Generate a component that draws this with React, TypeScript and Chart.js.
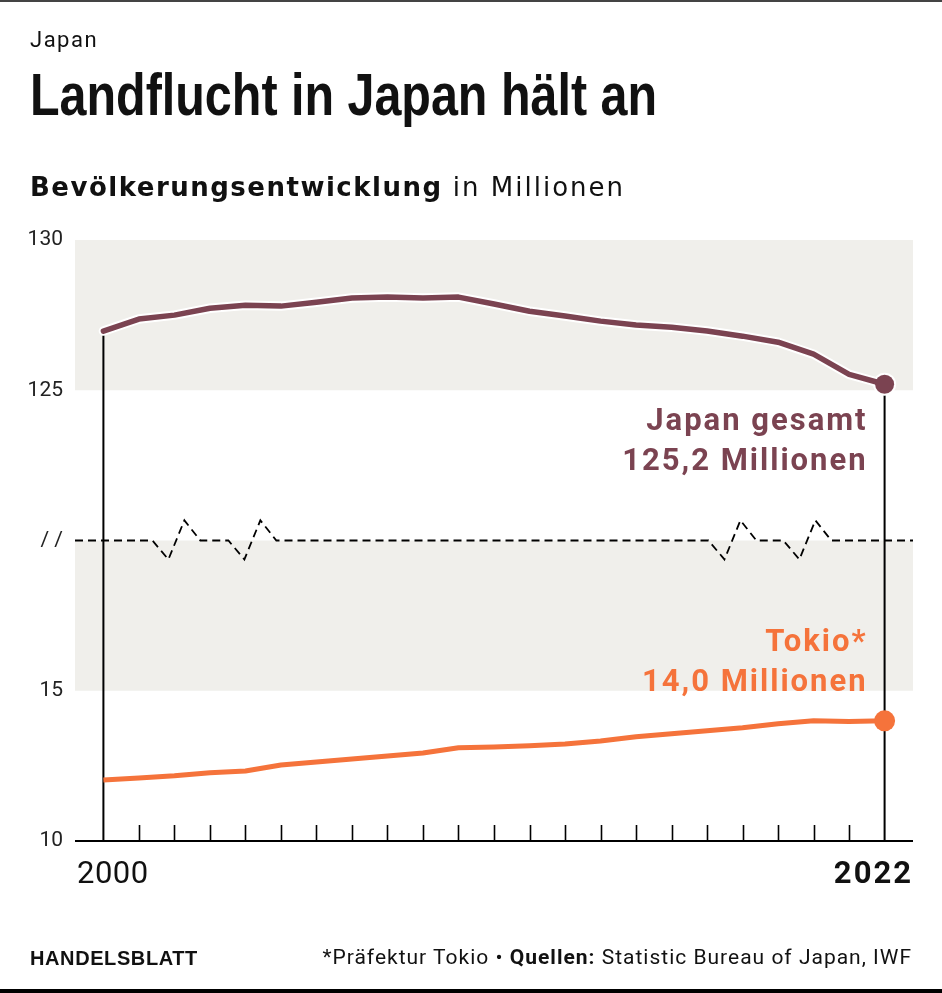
import React, { useEffect, useRef } from "react";
import { Chart, registerables } from "chart.js";

Chart.register(...registerables);

// ---- Data ----
const years = [
  2000, 2001, 2002, 2003, 2004, 2005, 2006, 2007, 2008, 2009, 2010, 2011,
  2012, 2013, 2014, 2015, 2016, 2017, 2018, 2019, 2020, 2021, 2022,
];
// Japan gesamt, Mio.
const japanTotal = [
  126.97, 127.37, 127.5, 127.73, 127.83, 127.8, 127.93, 128.07, 128.1, 128.07,
  128.1, 127.87, 127.63, 127.47, 127.3, 127.17, 127.1, 126.97, 126.8, 126.6,
  126.2, 125.53, 125.2,
];
// Präfektur Tokio, Mio.
const tokyo = [
  12.03, 12.1, 12.17, 12.27, 12.33, 12.53, 12.63, 12.73, 12.83, 12.93, 13.1,
  13.13, 13.17, 13.23, 13.33, 13.47, 13.57, 13.67, 13.77, 13.9, 14.0, 13.98,
  14.0,
];
// Broken axis: lower segment 10–15, upper segment 125–130
const yTickLabels = ["10", "15", "/ /", "125", "130"];
const TOKYO_OFFSET = 10; // 10 Mio. -> axis value 0
const JAPAN_OFFSET = 110; // 125 Mio. -> axis value 15
const BREAK_VALUE = 10; // axis value of the "//" line
const breakStarts = [2001.38, 2003.52, 2017.04, 2019.15];
const BREAK_WIDTH = 1.35;

const japanLabel = ["Japan gesamt", "125,2 Millionen"];
const tokyoLabel = ["Tokio*", "14,0 Millionen"];

const JAPAN_COLOR = "#7b4351";
const TOKYO_COLOR = "#f5733b";
const BAND_COLOR = "#f0efeb";

const japanPts = years.map((yr, i) => ({ x: yr, y: japanTotal[i] - JAPAN_OFFSET }));
const tokyoPts = years.map((yr, i) => ({ x: yr, y: tokyo[i] - TOKYO_OFFSET }));
const lastIdx = years.length - 1;

const decorPlugin = {
  id: "decor",
  beforeDatasetsDraw(chart: any) {
    const { ctx, chartArea: a, scales } = chart;
    const x = scales.x;
    const y = scales.y;
    ctx.save();
    // grey bands
    ctx.fillStyle = BAND_COLOR;
    ctx.fillRect(a.left, y.getPixelForValue(20), a.right - a.left, y.getPixelForValue(15) - y.getPixelForValue(20));
    ctx.fillRect(a.left, y.getPixelForValue(10), a.right - a.left, y.getPixelForValue(5) - y.getPixelForValue(10));
    // dashed break line with zigzags
    const yb = y.getPixelForValue(BREAK_VALUE);
    ctx.beginPath();
    ctx.moveTo(a.left, yb);
    breakStarts.forEach((bs) => {
      ctx.lineTo(x.getPixelForValue(bs), yb);
      ctx.lineTo(x.getPixelForValue(bs + BREAK_WIDTH / 3), y.getPixelForValue(BREAK_VALUE - 0.63));
      ctx.lineTo(x.getPixelForValue(bs + (2 * BREAK_WIDTH) / 3), y.getPixelForValue(BREAK_VALUE + 0.67));
      ctx.lineTo(x.getPixelForValue(bs + BREAK_WIDTH), yb);
    });
    ctx.lineTo(a.right, yb);
    ctx.setLineDash([8, 5]);
    ctx.lineWidth = 1.8;
    ctx.strokeStyle = "#000";
    ctx.stroke();
    ctx.setLineDash([]);
    // x axis line
    ctx.beginPath();
    ctx.moveTo(a.left, a.bottom);
    ctx.lineTo(a.right, a.bottom);
    ctx.lineWidth = 2;
    ctx.stroke();
    // year ticks
    ctx.beginPath();
    for (let i = 1; i < lastIdx; i++) {
      const px = Math.round(x.getPixelForValue(years[i])) + 0.5;
      ctx.moveTo(px, a.bottom);
      ctx.lineTo(px, a.bottom - 16);
    }
    ctx.lineWidth = 1.6;
    ctx.stroke();
    // vertical lines at start/end year
    ctx.beginPath();
    const x0 = x.getPixelForValue(years[0]);
    const x1 = x.getPixelForValue(years[lastIdx]);
    ctx.moveTo(x0, y.getPixelForValue(japanPts[0].y));
    ctx.lineTo(x0, a.bottom);
    ctx.moveTo(x1, y.getPixelForValue(japanPts[lastIdx].y));
    ctx.lineTo(x1, a.bottom);
    ctx.lineWidth = 2;
    ctx.stroke();
    ctx.restore();
  },
  afterDatasetsDraw(chart: any) {
    const { ctx, chartArea: a, scales } = chart;
    const x = scales.x;
    const y = scales.y;
    ctx.save();
    // x labels
    ctx.fillStyle = "#111";
    ctx.textBaseline = "alphabetic";
    ctx.font = "400 31px Roboto";
    ctx.textAlign = "left";
    ctx.letterSpacing = "0.5px";
    ctx.fillText(String(years[0]), a.left + 2, a.bottom + 42);
    ctx.font = "700 31px Roboto";
    ctx.textAlign = "right";
    ctx.letterSpacing = "2px";
    ctx.fillText(String(years[lastIdx]), a.right, a.bottom + 42);
    // annotations
    const xe = x.getPixelForValue(years[lastIdx]) - 17;
    const yj = y.getPixelForValue(japanPts[lastIdx].y);
    const yt = y.getPixelForValue(tokyoPts[lastIdx].y);
    ctx.font = "700 31px Roboto";
    ctx.textAlign = "right";
    ctx.letterSpacing = "2px";
    ctx.fillStyle = JAPAN_COLOR;
    ctx.fillText(japanLabel[0], xe, yj + 46);
    ctx.fillText(japanLabel[1], xe, yj + 86);
    ctx.fillStyle = TOKYO_COLOR;
    ctx.fillText(tokyoLabel[0], xe, yt - 70);
    ctx.fillText(tokyoLabel[1], xe, yt - 30);
    ctx.restore();
  },
};

function lastOnly(r: number) {
  return years.map((_, i) => (i === lastIdx ? r : 0));
}

export default function App() {
  const canvasRef = useRef<HTMLCanvasElement | null>(null);
  const titleRef = useRef<HTMLDivElement | null>(null);

  useEffect(() => {
    document.body.style.margin = "0";
    const t = titleRef.current;
    if (t) {
      t.style.transform = "none";
      const w = t.getBoundingClientRect().width;
      if (w > 0) t.style.transform = `scaleX(${627 / w})`;
    }
    const canvas = canvasRef.current!;
    const chart = new Chart(canvas, {
      type: "line",
      data: {
        datasets: [
          {
            label: "Japan",
            data: japanPts,
            borderColor: JAPAN_COLOR,
            backgroundColor: JAPAN_COLOR,
            borderWidth: 5.5,
            pointRadius: lastOnly(9.5),
            pointHoverRadius: 0,
            pointBorderWidth: 0,
            borderCapStyle: "round",
            borderJoinStyle: "round",
            tension: 0,
            order: 1,
          },
          {
            label: "Japan-halo",
            data: japanPts,
            borderColor: "#ffffff",
            backgroundColor: "#ffffff",
            borderWidth: 9.5,
            pointRadius: lastOnly(11.5),
            pointBorderWidth: 0,
            borderCapStyle: "round",
            borderJoinStyle: "round",
            tension: 0,
            order: 2,
          },
          {
            label: "Tokio",
            data: tokyoPts,
            borderColor: TOKYO_COLOR,
            backgroundColor: TOKYO_COLOR,
            borderWidth: 5,
            pointRadius: lastOnly(10.5),
            pointBorderWidth: 0,
            borderCapStyle: "butt",
            borderJoinStyle: "round",
            tension: 0,
            order: 0,
          },
        ],
      },
      options: {
        animation: false,
        responsive: false,
        devicePixelRatio: 1,
        events: [],
        layout: { padding: { left: 0, top: 240, right: 29, bottom: 152 } },
        plugins: { legend: { display: false }, tooltip: { enabled: false } },
        scales: {
          x: { type: "linear", min: 1999.2, max: 2022.8, display: false },
          y: {
            type: "linear",
            min: 0,
            max: 20,
            afterFit: (s: any) => {
              s.width = 75;
            },
            grid: { display: false, drawTicks: false },
            border: { display: false },
            ticks: {
              stepSize: 5,
              padding: 12,
              color: "#222",
              font: { family: "Roboto", size: 21 },
              callback: (v: any) => yTickLabels[Math.round(Number(v) / 5)],
            },
          },
        },
      } as any,
      plugins: [decorPlugin],
    });
    return () => chart.destroy();
  }, []);

  const base: React.CSSProperties = { position: "absolute", lineHeight: 1, whiteSpace: "nowrap", color: "#111" };

  return (
    <div style={{ position: "fixed", left: 0, top: 0, width: 942, height: 993, background: "#fff", overflow: "hidden" }}>
      <canvas ref={canvasRef} width={942} height={993} style={{ position: "absolute", left: 0, top: 0, width: 942, height: 993 }} />
      <div style={{ position: "absolute", left: 0, top: 0, width: 942, height: 2, background: "#444" }} />
      <div style={{ position: "absolute", left: 0, top: 989, width: 942, height: 4, background: "#000" }} />
      <div style={{ ...base, left: 30, top: 29, fontFamily: "Roboto", fontSize: 22, fontWeight: 400, letterSpacing: 1.5 }}>Japan</div>
      <div
        ref={titleRef}
        style={{ ...base, left: 30, top: 66, fontFamily: "'Liberation Sans', Arial, sans-serif", fontSize: 59, fontWeight: 700, transformOrigin: "left top" }}
      >
        Landflucht in Japan hält an
      </div>
      <div style={{ ...base, left: 30, top: 174, fontFamily: "'DejaVu Sans'", fontSize: 26 }}>
        <span style={{ fontWeight: 700, letterSpacing: 1.5 }}>Bevölkerungsentwicklung</span>
        <span style={{ fontWeight: 400, letterSpacing: 2 }}> in Millionen</span>
      </div>
      <div style={{ ...base, left: 30, top: 948, fontFamily: "'Liberation Sans'", fontSize: 20, fontWeight: 700, letterSpacing: 0.6 }}>HANDELSBLATT</div>
      <div style={{ ...base, right: 30, top: 947, fontFamily: "Roboto", fontSize: 21, fontWeight: 400, letterSpacing: 1 }}>
        *Präfektur Tokio • <span style={{ fontWeight: 700 }}>Quellen:</span> Statistic Bureau of Japan, IWF
      </div>
    </div>
  );
}
